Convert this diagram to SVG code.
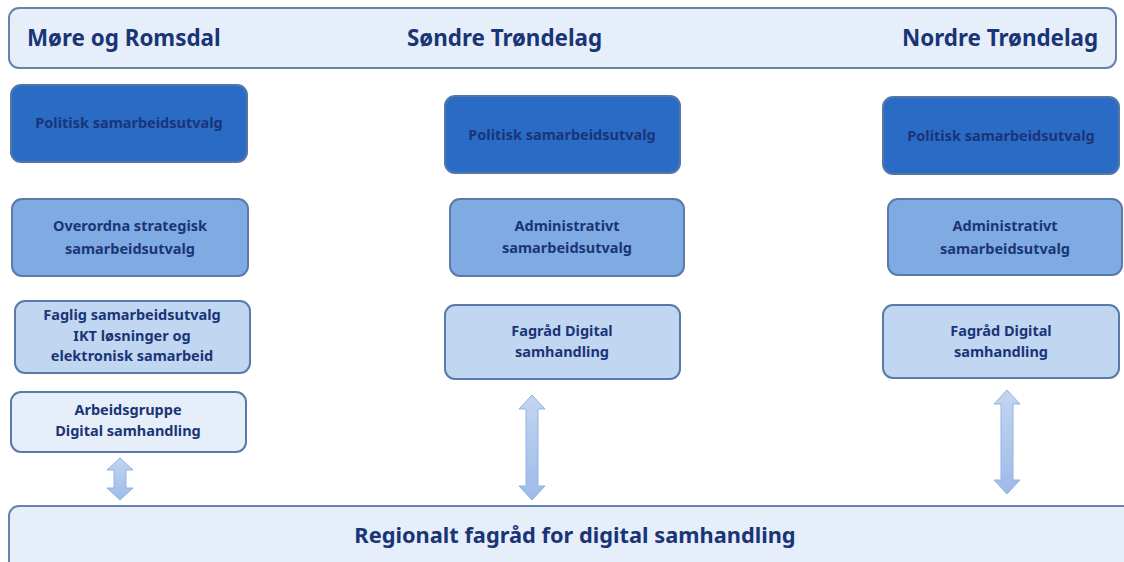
<svg xmlns="http://www.w3.org/2000/svg" width="1124" height="562" viewBox="0 0 1124 562">
<defs>
<linearGradient id="ag" x1="0" y1="0" x2="0" y2="1">
<stop offset="0" stop-color="#c3d5f0"/>
<stop offset="1" stop-color="#9dbbe8"/>
</linearGradient>
<style>
text{font-family:"Noto Sans","Open Sans","DejaVu Sans",sans-serif;font-weight:bold;fill:#1a3577;text-anchor:middle}
.hd{font-size:22.4px;text-anchor:start}
.nt{font-size:14.5px}
.bt{font-size:21.8px}
.bar{fill:#e6eef9;stroke:#6682ad;stroke-width:2}
.n1{fill:#2a6bc6;stroke:#5577a8;stroke-width:2}
.n2{fill:#80abe2;stroke:#5a7aa8;stroke-width:2}
.n3{fill:#c1d6f1;stroke:#5a7aa8;stroke-width:2}
.n4{fill:#e6eef9;stroke:#5a7aa8;stroke-width:2}
.ar{fill:url(#ag);stroke:#93b2e0;stroke-width:1}
</style>
</defs>
<rect width="1124" height="562" fill="#ffffff"/>
<g id="header">
<rect class="bar" x="9" y="8" width="1107" height="60" rx="10"/>
<text class="hd" x="27" y="46">Møre og Romsdal</text>
<text class="hd" x="407" y="46">Søndre Trøndelag</text>
<text class="hd" x="902" y="46">Nordre Trøndelag</text>
</g>
<g id="mr-politisk"><rect class="n1" x="11" y="85" width="236" height="77" rx="10"/><text class="nt" x="129" y="128">Politisk samarbeidsutvalg</text></g>
<g id="mr-overordna"><rect class="n2" x="12" y="199" width="236" height="77" rx="10"/><text class="nt" x="130" y="231">Overordna strategisk</text><text class="nt" x="130" y="254">samarbeidsutvalg</text></g>
<g id="mr-faglig"><rect class="n3" x="15" y="301" width="235" height="72" rx="10"/><text class="nt" x="132" y="320">Faglig samarbeidsutvalg</text><text class="nt" x="132" y="341">IKT løsninger og</text><text class="nt" x="132" y="361">elektronisk samarbeid</text></g>
<g id="mr-arbeidsgruppe"><rect class="n4" x="11" y="392" width="235" height="60" rx="10"/><text class="nt" x="128" y="415">Arbeidsgruppe</text><text class="nt" x="128" y="436">Digital samhandling</text></g>
<g id="st-politisk"><rect class="n1" x="445" y="96" width="235" height="77" rx="10"/><text class="nt" x="562" y="140">Politisk samarbeidsutvalg</text></g>
<g id="st-admin"><rect class="n2" x="450" y="199" width="234" height="77" rx="10"/><text class="nt" x="567" y="231">Administrativt</text><text class="nt" x="567" y="253">samarbeidsutvalg</text></g>
<g id="st-fagrad"><rect class="n3" x="445" y="305" width="235" height="74" rx="10"/><text class="nt" x="562" y="336">Fagråd Digital</text><text class="nt" x="562" y="357">samhandling</text></g>
<g id="nt-politisk"><rect class="n1" x="883" y="97" width="236" height="77" rx="10"/><text class="nt" x="1001" y="141">Politisk samarbeidsutvalg</text></g>
<g id="nt-admin"><rect class="n2" x="888" y="199" width="234" height="76" rx="10"/><text class="nt" x="1005" y="231">Administrativt</text><text class="nt" x="1005" y="254">samarbeidsutvalg</text></g>
<g id="nt-fagrad"><rect class="n3" x="883" y="305" width="236" height="73" rx="10"/><text class="nt" x="1001" y="336">Fagråd Digital</text><text class="nt" x="1001" y="357">samhandling</text></g>
<g id="regional"><rect class="bar" x="9" y="506" width="1130" height="70" rx="10"/><text class="bt" x="575" y="543">Regionalt fagråd for digital samhandling</text></g>
<g id="connectors">
<polygon class="ar" points="120,458 133,470 126,470 126,488 133,488 120,500 107,488 114,488 114,470 107,470"/>
<polygon class="ar" points="532,395 545,409 538,409 538,486 545,486 532,500 519,486 526,486 526,409 519,409"/>
<polygon class="ar" points="1007,390 1020,404 1013,404 1013,480 1020,480 1007,494 994,480 1001,480 1001,404 994,404"/>
</g>
</svg>
